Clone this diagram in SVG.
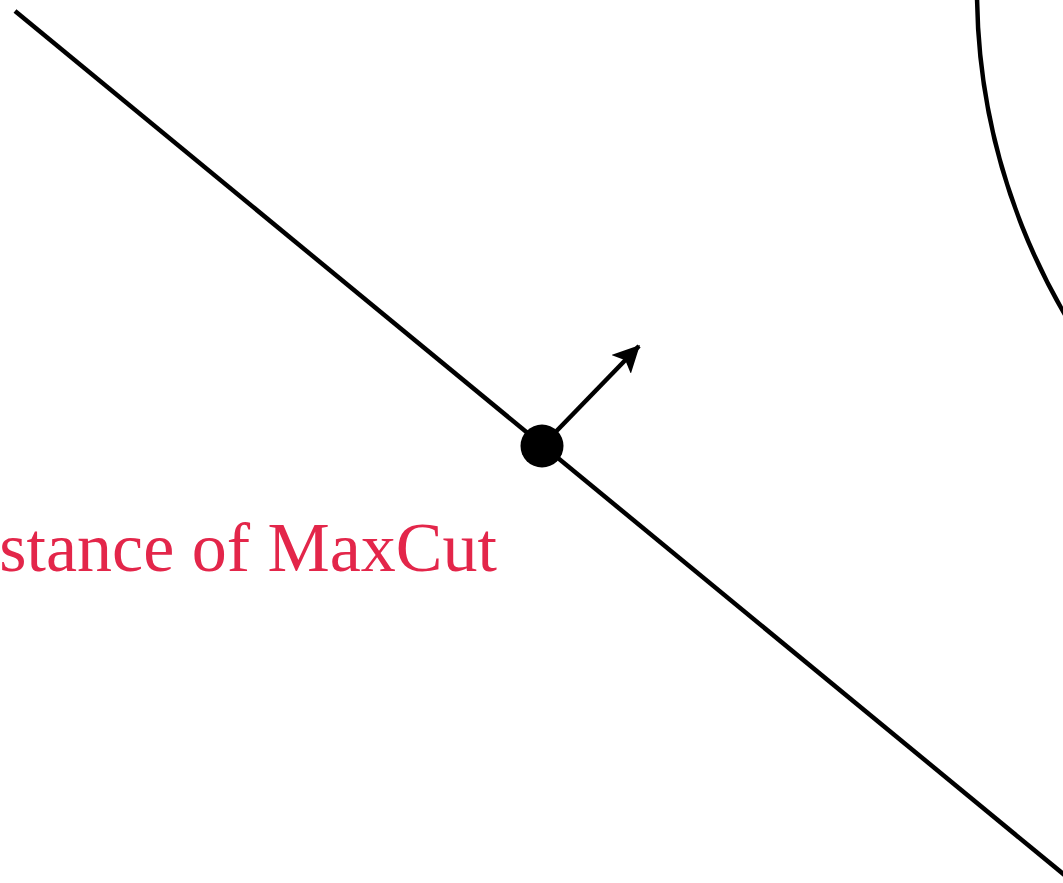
<svg xmlns="http://www.w3.org/2000/svg" width="1063" height="883" viewBox="0 0 1063 883">
<style>
.stroke{fill:none;stroke:#000;stroke-width:4.5;stroke-linecap:butt}
.lbl{font-family:"Liberation Serif","DejaVu Serif",serif;font-size:70px;fill:#e3264a}
</style>
<defs>
<marker id="ah" viewBox="0 0 10 10" refX="9.5" refY="5" markerWidth="6" markerHeight="6" markerUnits="strokeWidth" orient="auto">
<path d="M0,0 L10,5 L0,10 L2.2,5 Z" fill="#000"/>
</marker>
</defs>
<rect width="1063" height="883" fill="#fff"/>
<g id="circle">
<circle class="stroke" cx="1619" cy="-10" r="642"/>
</g>
<g id="connectors">
<line class="stroke" x1="15" y1="11" x2="1073" y2="882"/>
<line class="stroke" x1="542" y1="446" x2="639" y2="346" marker-end="url(#ah)"/>
</g>
<g id="point">
<circle cx="542" cy="446" r="21.5" fill="#000"/>
</g>
<g id="label">
<text class="lbl" x="497" y="571" text-anchor="end">stance of MaxCut</text>
</g>
</svg>
